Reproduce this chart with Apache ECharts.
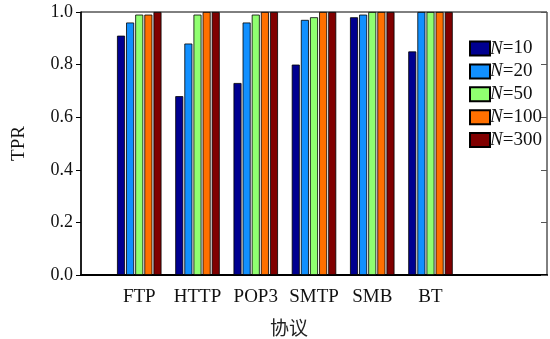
<!DOCTYPE html>
<html>
<head>
<meta charset="utf-8">
<script src="https://cdn.jsdelivr.net/npm/echarts@6/dist/echarts.min.js"></script>
<style>
html, body { margin: 0; padding: 0; background: #fff; }
#chart { width: 550px; height: 339px; }
</style>
</head>
<body>
<div id="chart"></div>
<script>
// protocols, with empty slots so groups sit at 1..6 of 0..8
var protocols = ['', 'FTP', 'HTTP', 'POP3', 'SMTP', 'SMB', 'BT', '', ''];
var seriesNames = ['N=10', 'N=20', 'N=50', 'N=100', 'N=300'];
var colors = ['#000090', '#1190ff', '#90ff70', '#ff7000', '#800000'];

var tpr10  = [null, 0.91, 0.68, 0.73, 0.80, 0.98, 0.85, null, null];
var tpr20  = [null, 0.96, 0.88, 0.96, 0.97, 0.99, 1.00, null, null];
var tpr50  = [null, 0.99, 0.99, 0.99, 0.98, 1.00, 1.00, null, null];
var tpr100 = [null, 0.99, 1.00, 1.00, 1.00, 1.00, 1.00, null, null];
var tpr300 = [null, 1.00, 1.00, 1.00, 1.00, 1.00, 1.00, null, null];
var allData = [tpr10, tpr20, tpr50, tpr100, tpr300];

var serif = '"Liberation Serif", "DejaVu Serif", serif';

var series = [];
for (var i = 0; i < seriesNames.length; i++) {
    series.push({
        name: seriesNames[i],
        type: 'bar',
        barWidth: 8,
        barGap: '14%',
        data: allData[i],
        itemStyle: {
            color: colors[i],
            borderColor: '#000',
            borderWidth: 0.8
        }
    });
}

var chart = echarts.init(document.getElementById('chart'));
chart.setOption({
    animation: false,
    color: colors,
    title: {
        text: '协议',
        left: 270,
        top: 318,
        padding: 0,
        textStyle: {
            fontFamily: '"Noto Sans CJK SC", serif',
            fontSize: 19,
            fontWeight: 'normal',
            color: '#222'
        }
    },
    legend: {
        orient: 'vertical',
        left: 469,
        top: 39,
        padding: 0,
        icon: 'rect',
        itemWidth: 20,
        itemHeight: 14,
        itemGap: 3.9,
        data: seriesNames,
        formatter: function (name) {
            return '{i|N}' + name.slice(1);
        },
        textStyle: {
            fontFamily: serif,
            fontSize: 19,
            color: '#111',
            padding: [0, 0, 0, -5],
            rich: {
                i: { fontFamily: serif, fontSize: 19, fontStyle: 'italic', color: '#111' }
            }
        }
    },
    grid: {
        left: 81,
        right: 0,
        top: 12,
        bottom: 64,
        show: true,
        borderColor: '#000',
        borderWidth: 1
    },
    xAxis: {
        type: 'category',
        data: protocols,
        boundaryGap: false,
        axisLine: { lineStyle: { color: '#000', width: 2 } },
        axisTick: { show: false },
        axisLabel: {
            interval: 0,
            margin: 13,
            fontFamily: serif,
            fontSize: 19,
            color: '#111'
        }
    },
    yAxis: [
        {
            type: 'value',
            min: 0,
            max: 1,
            interval: 0.2,
            name: 'TPR',
            nameLocation: 'middle',
            nameRotate: 90,
            nameGap: 52,
            nameTextStyle: { fontFamily: serif, fontSize: 19, color: '#111' },
            splitLine: { show: false },
            axisLine: { show: true, lineStyle: { color: '#000', width: 1.5 } },
            axisTick: { show: true, length: 5, lineStyle: { color: '#000' } },
            axisLabel: {
                margin: 8,
                formatter: function (v) { return v.toFixed(1); },
                fontFamily: serif,
                fontSize: 18,
                color: '#111'
            }
        },
        {
            type: 'value',
            position: 'right',
            min: 0,
            max: 1,
            interval: 0.2,
            splitLine: { show: false },
            axisLine: { show: false },
            axisTick: { show: true, inside: true, length: 6, lineStyle: { color: '#555' } },
            axisLabel: { show: false }
        }
    ],
    series: series
});
</script>
</body>
</html>
